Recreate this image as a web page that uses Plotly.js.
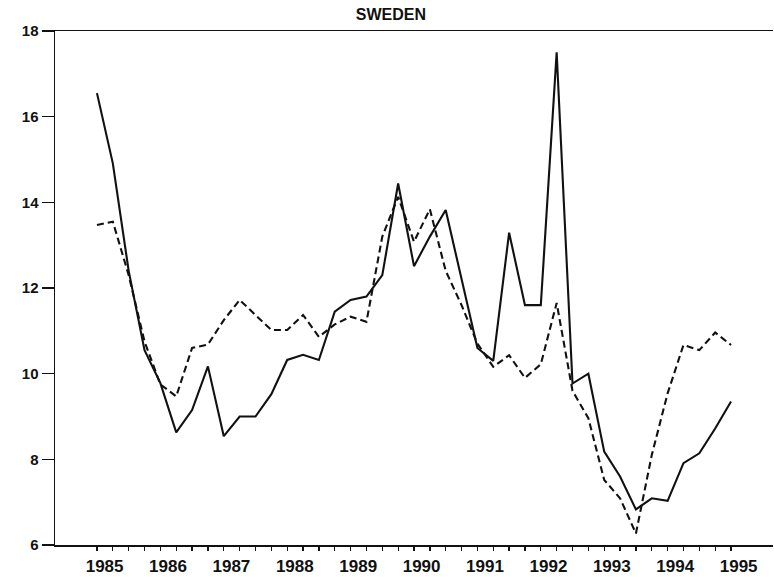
<!DOCTYPE html>
<html>
<head>
<meta charset="utf-8">
<script src="https://cdn.plot.ly/plotly-3.0.1.min.js"></script>
<style>html,body{margin:0;padding:0;background:#fff;}#chart{width:774px;height:577px;}</style>
</head>
<body>
<div id="chart"></div>
<script>
// Quarterly observations 1985Q1 .. 1995Q1
const quarters = [];
for (let y = 1985; y <= 1995; y++) {
  for (let q = 0; q < 4; q++) {
    if (y === 1995 && q > 0) break;
    quarters.push(y + q / 4);
  }
}
const solidSeries = [16.55, 14.91, 12.4, 10.55, 9.78, 8.63, 9.15, 10.17, 8.54, 9.0,
  9.0, 9.52, 10.32, 10.44, 10.32, 11.45, 11.72, 11.8, 12.3, 14.44,
  12.51, 13.2, 13.82, 12.2, 10.6, 10.3, 13.29, 11.6, 11.6, 17.5,
  9.77, 10.0, 8.18, 7.6, 6.83, 7.09, 7.03, 7.91, 8.14, 8.72, 9.35];
const dashedSeries = [13.47, 13.55, 12.3, 10.75, 9.75, 9.47, 10.6, 10.68, 11.25, 11.72,
  11.37, 11.02, 11.02, 11.37, 10.86, 11.15, 11.33, 11.21, 13.2, 14.13,
  13.08, 13.84, 12.4, 11.6, 10.7, 10.16, 10.43, 9.9, 10.22, 11.65,
  9.6, 8.96, 7.52, 7.09, 6.27, 8.1, 9.54, 10.67, 10.55, 10.96, 10.67];
const yearLabels = ['1985','1986','1987','1988','1989','1990','1991','1992','1993','1994','1995'];
const titleText = 'SWEDEN';

const yearNums = yearLabels.map(Number);
const labelPos = yearNums.map(y => y + 0.12);
const majorTickPos = yearNums.slice(0, -1).map(y => y + 0.75);
const xRange = [1984.338, 1995.662];
const fontFam = '"Liberation Sans", Arial, Helvetica, sans-serif';

const traces = [
  {x: quarters, y: dashedSeries, type: 'scatter', mode: 'lines',
   line: {color: '#111', width: 2.1, dash: '7px,4px'}, hoverinfo: 'skip'},
  {x: quarters, y: solidSeries, type: 'scatter', mode: 'lines',
   line: {color: '#111', width: 2.1}, hoverinfo: 'skip'},
  {x: [labelPos[0]], y: [null], xaxis: 'x2', yaxis: 'y', type: 'scatter', mode: 'lines',
   showlegend: false, hoverinfo: 'skip'}
];

const layout = {
  width: 774, height: 577,
  margin: {l: 55, r: 1, t: 31, b: 32},
  paper_bgcolor: '#fff', plot_bgcolor: '#fff',
  showlegend: false,
  title: {text: titleText, x: 0.505, xref: 'container', xanchor: 'center',
          y: 1 - 14 / 577, yref: 'container', yanchor: 'middle',
          font: {family: fontFam, size: 16, color: '#111', weight: 'bold'}},
  xaxis: {
    range: xRange, showgrid: false, zeroline: false,
    showline: true, linecolor: '#111', linewidth: 1.5, mirror: true,
    tickmode: 'array', tickvals: majorTickPos, ticktext: majorTickPos.map(() => ''),
    ticks: 'outside', ticklen: 8, tickwidth: 1.5, tickcolor: '#111',
    showticklabels: false,
    minor: {tickmode: 'array', tickvals: quarters, ticks: 'outside', ticklen: 4,
            tickwidth: 1.3, tickcolor: '#111', showgrid: false}
  },
  xaxis2: {
    overlaying: 'x', anchor: 'y', side: 'bottom', range: xRange,
    showgrid: false, zeroline: false, showline: false,
    tickmode: 'array', tickvals: labelPos, ticktext: yearLabels,
    ticks: 'outside', ticklen: 6, tickcolor: 'rgba(0,0,0,0)',
    tickfont: {family: fontFam, size: 17, color: '#111', weight: 'bold'}
  },
  yaxis: {
    range: [6, 18], dtick: 2, tick0: 6, showgrid: false, zeroline: false,
    showline: true, linecolor: '#111', linewidth: 1.5,
    ticks: 'outside', ticklen: 12, tickwidth: 1.5, tickcolor: '#111',
    tickfont: {family: fontFam, size: 15, color: '#111', weight: 'bold'}
  }
};

Plotly.newPlot('chart', traces, layout, {staticPlot: true, displayModeBar: false});
</script>
</body>
</html>
